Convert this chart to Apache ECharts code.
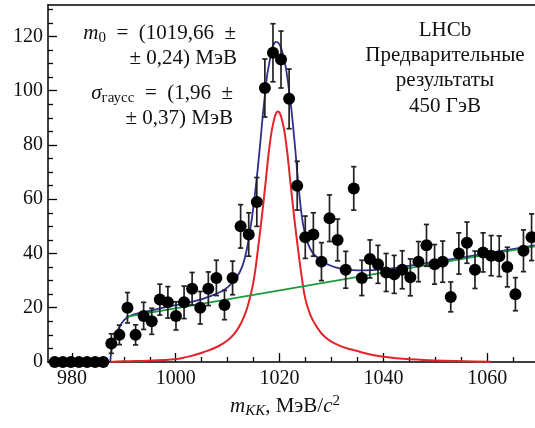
<!DOCTYPE html>
<html>
<head>
<meta charset="utf-8">
<script src="https://cdn.jsdelivr.net/npm/echarts@6/dist/echarts.min.js"></script>
<style>
  html, body { margin: 0; padding: 0; background: #fff; }
  #chart { width: 535px; height: 428px; }
</style>
</head>
<body>
<div id="chart"></div>
<script>
// ---------- data ----------
const massCenters = [976.70, 978.26, 979.81, 981.37, 982.93, 984.48, 986.04, 987.60, 989.15, 990.71,
  992.27, 993.82, 995.38, 996.94, 998.49, 1000.05, 1001.61, 1003.16, 1004.72, 1006.28,
  1007.83, 1009.39, 1010.95, 1012.50, 1014.06, 1015.62, 1017.17, 1018.73, 1020.28, 1021.84,
  1023.40, 1024.95, 1026.51, 1028.07, 1029.62, 1031.18, 1032.74, 1034.29, 1035.85, 1037.41,
  1038.96, 1040.52, 1042.08, 1043.63, 1045.19, 1046.75, 1048.30, 1049.86, 1051.42, 1052.97,
  1054.53, 1056.09, 1057.64, 1059.20, 1060.76, 1062.31, 1063.87, 1065.43, 1066.98, 1068.54];
const counts = [0, 0, 0, 0, 0, 0, 0, 6.8, 10, 20,
  10, 17, 15, 23, 22, 17, 22, 27, 20, 27,
  31, 21, 31, 50, 47, 59, 101, 114, 111.5, 97,
  65, 46, 47, 37, 53, 45, 34, 64, 31, 38,
  36, 33, 32.3, 34, 31.2, 37, 43, 36, 37, 24,
  40, 44, 34, 40.4, 39.2, 39, 35, 25, 41, 46];
const countErrors = [0, 0, 0, 0, 0, 0, 0, 3.6, 3.6, 5.6,
  3.7, 5, 4.8, 5.7, 5.8, 5.2, 6, 6, 6, 6.2,
  6.5, 5.4, 6.2, 8, 8, 9, 10.7, 10.7, 10.5, 11,
  9, 7.8, 8, 7, 8.6, 7.7, 6.8, 8, 6.5, 7,
  7, 7, 7, 7, 6.8, 7.4, 7.7, 7.3, 7.6, 5.5,
  7.6, 7.6, 6.9, 7.2, 7.4, 7.5, 7.3, 6.1, 7.7, 8.6];

// signal (red) curve
const signalX = [987.4, 990, 994.7, 999.7, 1002, 1005.2, 1008.2, 1010.2, 1011.6, 1012.7,
  1013.6, 1014.4, 1015.1, 1015.8, 1016.5, 1017.3, 1018.1, 1018.9, 1019.66, 1020.5,
  1021.3, 1022.1, 1022.9, 1023.6, 1024.3, 1025.0, 1025.9, 1027.0, 1028.7, 1031.2,
  1034.2, 1039.7, 1047.7, 1054, 1060.7];
const signalY = [0, 0.25, 0.5, 1.0, 1.8, 3.5, 5.8, 8.3, 11.2, 14.8,
  19, 24.5, 31, 41, 52, 66, 80, 89, 92.3, 89,
  80, 66, 52, 41, 31, 23, 17.5, 13.5, 9.3, 6.3,
  4.4, 2, 0.75, 0.35, 0.1];

// total fit (blue) curve
const totalX = [987.4, 987.6, 988.0, 988.6, 989.2, 990.0, 991.0, 992.5, 995, 998,
  1001, 1004, 1006, 1008, 1009.5, 1011, 1012.3, 1013.2, 1014.2, 1015.2,
  1016.15, 1017.1, 1018.1, 1019.4, 1020.6, 1021.9, 1022.9, 1023.6, 1024.5, 1025.4,
  1026.3, 1027.3, 1029, 1032, 1035, 1038, 1042, 1046, 1050, 1055, 1062, 1069.2];
const totalY = [0, 4, 8, 10.8, 13, 15.3, 16.8, 17.8, 18.8, 20.2,
  21.3, 22.6, 23.8, 25.3, 26.8, 29.5, 33, 37.5, 47, 61,
  78, 97, 111, 118, 113.8, 99, 81, 66, 51, 44,
  40.5, 38.5, 36.2, 34.3, 33.8, 33.9, 34.6, 35.8, 36.9, 38.5, 40.7, 43];

// background (green) line
const backgroundX = [990.4, 1069.2];
const backgroundY = [16.6, 42.6];

// axis ticks
const xMajorTicks = [980, 1000, 1020, 1040, 1060];
const xMinorTicks = [980, 985, 990, 995, 1005, 1010, 1015, 1025, 1030, 1035, 1045, 1050, 1055, 1065];
const yMajorTicks = [0, 20, 40, 60, 80, 100, 120];
const yMinorTicks = [5, 10, 15, 25, 30, 35, 45, 50, 55, 65, 70, 75, 85, 90, 95, 105, 110, 115, 125, 130];

// ---------- build ----------
const FONT = 'Liberation Serif';
const TXT = '#111';
const pts = massCenters.map((m, i) => [m, counts[i]]);
const errs = massCenters.map((m, i) => [m, counts[i], countErrors[i]]);
const pair = (xs, ys) => xs.map((x, i) => [x, ys[i]]);

const XMIN = 975.4, XMAX = 1069.2, YMIN = 0, YMAX = 131.6;

const baseX = { type: 'value', min: XMIN, max: XMAX, splitLine: { show: false } };
const baseY = { type: 'value', min: YMIN, max: YMAX, splitLine: { show: false } };

const chart = echarts.init(document.getElementById('chart'), null, { renderer: 'canvas' });

const FS = 21;
const rm = { fontFamily: FONT, fontSize: FS, fill: TXT, lineHeight: 25 };
const ri = Object.assign({}, rm, { fontStyle: 'italic' });
const sub = { fontFamily: FONT, fontSize: 15, fill: TXT, lineHeight: 15, verticalAlign: 'bottom' };
const subi = Object.assign({}, sub, { fontStyle: 'italic' });
const sup = { fontFamily: FONT, fontSize: 15, fill: TXT, lineHeight: 15, verticalAlign: 'top' };

function txt(x, y, text, align) {
  return {
    type: 'text', x: x, y: y, z: 100,
    style: { text: text, align: align || 'right', verticalAlign: 'middle',
      fontFamily: FONT, fontSize: FS, fill: TXT,
      rich: { m: rm, i: ri, s: sub, si: subi, p: sup } }
  };
}

const option = {
  animation: false,
  backgroundColor: '#fff',
  grid: { left: 48, right: 0, top: 5, bottom: 66, containLabel: false },
  xAxis: [
    Object.assign({}, baseX, {
      position: 'bottom',
      axisLine: { show: true, lineStyle: { color: '#000', width: 1.5 } },
      axisTick: { show: true, inside: true, length: 9, customValues: xMajorTicks, lineStyle: { color: '#000', width: 1.3 } },
      axisLabel: { show: true, customValues: xMajorTicks, margin: 7, fontFamily: FONT, fontSize: 20, color: TXT,
        formatter: function (v) { return String(v); } }
    }),
    Object.assign({}, baseX, {
      position: 'bottom',
      axisLine: { show: false },
      axisTick: { show: true, inside: true, length: 5, customValues: xMinorTicks, lineStyle: { color: '#000', width: 1.3 } },
      axisLabel: { show: false }
    }),
    Object.assign({}, baseX, {
      position: 'top',
      axisLine: { show: true, lineStyle: { color: '#000', width: 1.5 } },
      axisTick: { show: false },
      axisLabel: { show: false }
    })
  ],
  yAxis: [
    Object.assign({}, baseY, {
      position: 'left',
      axisLine: { show: true, lineStyle: { color: '#000', width: 1.5 } },
      axisTick: { show: true, inside: true, length: 9, customValues: yMajorTicks, lineStyle: { color: '#000', width: 1.3 } },
      axisLabel: { show: true, customValues: yMajorTicks, margin: 5, fontFamily: FONT, fontSize: 20, color: TXT,
        formatter: function (v) { return String(v); } }
    }),
    Object.assign({}, baseY, {
      position: 'left',
      axisLine: { show: false },
      axisTick: { show: true, inside: true, length: 5, customValues: yMinorTicks, lineStyle: { color: '#000', width: 1.3 } },
      axisLabel: { show: false }
    })
  ],
  series: [
    {
      type: 'line', name: 'signal', data: pair(signalX, signalY),
      showSymbol: false, smooth: true, clip: true,
      lineStyle: { color: '#e3242b', width: 2 }, z: 2
    },
    {
      type: 'line', name: 'total', data: pair(totalX, totalY),
      showSymbol: false, smooth: true, clip: true,
      lineStyle: { color: '#2f2f8f', width: 1.8 }, z: 3
    },
    {
      type: 'line', name: 'background', data: pair(backgroundX, backgroundY),
      showSymbol: false, clip: true,
      lineStyle: { color: '#1c9a3e', width: 1.8 }, z: 4
    },
    {
      type: 'custom', name: 'errors', data: errs, z: 5, clip: false,
      encode: { x: 0, y: 1 },
      renderItem: function (params, api) {
        const x = api.value(0), y = api.value(1), e = api.value(2);
        if (!e) return null;
        const t = api.coord([x, y + e]), b = api.coord([x, y - e]);
        const hw = 2.6, st = { stroke: '#222', lineWidth: 1.7 };
        return {
          type: 'group', children: [
            { type: 'line', shape: { x1: t[0], y1: t[1], x2: b[0], y2: b[1] }, style: st },
            { type: 'line', shape: { x1: t[0] - hw, y1: t[1], x2: t[0] + hw, y2: t[1] }, style: st },
            { type: 'line', shape: { x1: b[0] - hw, y1: b[1], x2: b[0] + hw, y2: b[1] }, style: st }
          ]
        };
      }
    },
    {
      type: 'scatter', name: 'data', data: pts, symbol: 'circle', symbolSize: 12,
      itemStyle: { color: '#000', opacity: 1 }, z: 6, clip: false
    }
  ],
  graphic: [
    txt(236, 33, '{i|m}{s|0}{m|  =  (1019,66  ±}'),
    txt(237, 58, '{m|± 0,24) МэВ}'),
    txt(233, 93, '{i|σ}{s|гаусс}{m|  =  (1,96  ±}'),
    txt(233, 118, '{m|± 0,37) МэВ}'),
    txt(445, 30, '{m|LHCb}', 'center'),
    txt(445, 55, '{m|Предварительные}', 'center'),
    txt(445, 80, '{m|результаты}', 'center'),
    txt(445, 106, '{m|450 ГэВ}', 'center'),
    txt(285, 406, '{i|m}{si|KK}{m|, МэВ/}{i|c}{p|2}', 'center')
  ]
};
chart.setOption(option);
</script>
</body>
</html>
